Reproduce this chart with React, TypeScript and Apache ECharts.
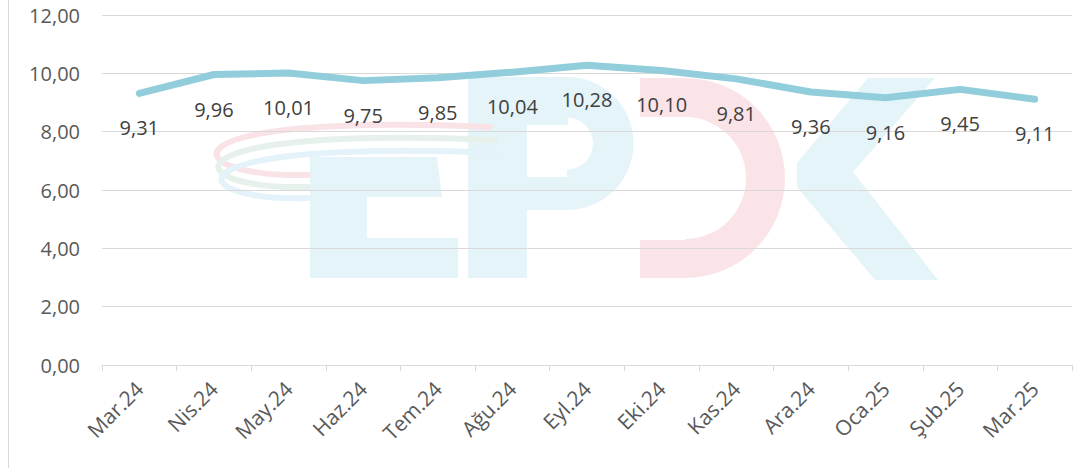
import React, { useEffect, useRef } from "react";
import * as echarts from "echarts";

const categories = ["Mar.24", "Nis.24", "May.24", "Haz.24", "Tem.24", "Ağu.24", "Eyl.24", "Eki.24", "Kas.24", "Ara.24", "Oca.25", "Şub.25", "Mar.25"];
const values = [9.31, 9.96, 10.01, 9.75, 9.85, 10.04, 10.28, 10.1, 9.81, 9.36, 9.16, 9.45, 9.11];
const yTicks = { min: 0, max: 12, interval: 2 };

const fmt = (v: number) => v.toFixed(2).replace(".", ",");

const BLUE_WM = "#E4F4F8";
const PINK_WM = "#FBE4E8";

export default function App() {
  const ref = useRef<HTMLDivElement>(null);
  useEffect(() => {
    if (!ref.current) return;
    const chart = echarts.init(ref.current, null, { renderer: "svg" });
    const font = "'Open Sans', sans-serif";
    chart.setOption({
      animation: false,
      backgroundColor: "#ffffff",
      graphic: [
        { type: "line", shape: { x1: 8.5, y1: 0, x2: 8.5, y2: 468 }, style: { stroke: "#D9D9D9", lineWidth: 1 }, z: -20 },
        // E
        { type: "rect", shape: { x: 310, y: 157, width: 57, height: 121 }, style: { fill: BLUE_WM }, z: -10 },
        { type: "polygon", shape: { points: [[310, 157], [437, 157], [442, 197], [310, 197]] }, style: { fill: BLUE_WM }, z: -10 },
        { type: "rect", shape: { x: 310, y: 238, width: 148, height: 40 }, style: { fill: BLUE_WM }, z: -10 },
        // P
        { type: "rect", shape: { x: 468, y: 77, width: 59, height: 201 }, style: { fill: BLUE_WM }, z: -10 },
        { type: "rect", shape: { x: 468, y: 77, width: 100, height: 48 }, style: { fill: BLUE_WM }, z: -10 },
        { type: "rect", shape: { x: 468, y: 177, width: 100, height: 33 }, style: { fill: BLUE_WM }, z: -10 },
        { type: "sector", shape: { cx: 567, cy: 143.5, r: 66.5, r0: 26, startAngle: -Math.PI / 2, endAngle: Math.PI / 2 }, style: { fill: BLUE_WM }, z: -10 },
        // D
        { type: "rect", shape: { x: 640, y: 78, width: 46, height: 39 }, style: { fill: PINK_WM }, z: -10 },
        { type: "rect", shape: { x: 640, y: 240, width: 46, height: 38 }, style: { fill: PINK_WM }, z: -10 },
        { type: "sector", shape: { cx: 685, cy: 178, r: 100, r0: 61, startAngle: -Math.PI / 2, endAngle: Math.PI / 2 }, style: { fill: PINK_WM }, z: -10 },
        // K
        { type: "polygon", shape: { points: [[868, 78], [935, 78], [853, 172], [938, 280], [875, 280], [797, 187], [797, 163]] }, style: { fill: BLUE_WM }, z: -10 },
        // swooshes
        { type: "bezierCurve", shape: { x1: 490, y1: 127, cpx1: 150, cpy1: 112, cpx2: 175, cpy2: 178, x2: 308, y2: 175 }, style: { stroke: "#FAE3E6", lineWidth: 6, fill: null, lineCap: "round" }, z: -9 },
        { type: "bezierCurve", shape: { x1: 495, y1: 140, cpx1: 155, cpy1: 125, cpx2: 175, cpy2: 190, x2: 308, y2: 187 }, style: { stroke: "#E6F1EC", lineWidth: 6, fill: null, lineCap: "round" }, z: -9 },
        { type: "bezierCurve", shape: { x1: 500, y1: 153, cpx1: 160, cpy1: 138, cpx2: 178, cpy2: 202, x2: 308, y2: 198 }, style: { stroke: "#E4F2F9", lineWidth: 6, fill: null, lineCap: "round" }, z: -9 },
      ],
      grid: { left: 102, right: 1, top: 15, bottom: 103, containLabel: false },
      xAxis: {
        type: "category",
        data: categories,
        boundaryGap: true,
        axisLine: { show: true, lineStyle: { color: "#D9D9D9", width: 1 } },
        axisTick: { show: true, length: 6, lineStyle: { color: "#D9D9D9" } },
        axisLabel: { rotate: 45, fontSize: 21, color: "#595959", fontFamily: font, margin: 20, interval: 0 },
      },
      yAxis: {
        type: "value",
        min: yTicks.min,
        max: yTicks.max,
        interval: yTicks.interval,
        axisLine: { show: false },
        axisTick: { show: false },
        splitLine: { lineStyle: { color: "#D9D9D9", width: 1 } },
        axisLabel: { fontSize: 20, color: "#595959", fontFamily: font, margin: 22, formatter: (v: number) => fmt(v) },
      },
      series: [
        {
          type: "line",
          data: values,
          symbol: "circle",
          symbolSize: 1,
          showSymbol: true,
          itemStyle: { color: "rgba(0,0,0,0)" },
          lineStyle: { color: "#92CDDC", width: 7, cap: "round", join: "round" },
          label: {
            show: true,
            position: "bottom",
            distance: 24,
            fontSize: 20,
            color: "#404040",
            fontFamily: font,
            formatter: (p: any) => fmt(p.value),
          },
        },
      ],
    });
    return () => chart.dispose();
  }, []);
  return <div ref={ref} style={{ position: "absolute", left: 0, top: 0, width: 1073, height: 468 }} />;
}
